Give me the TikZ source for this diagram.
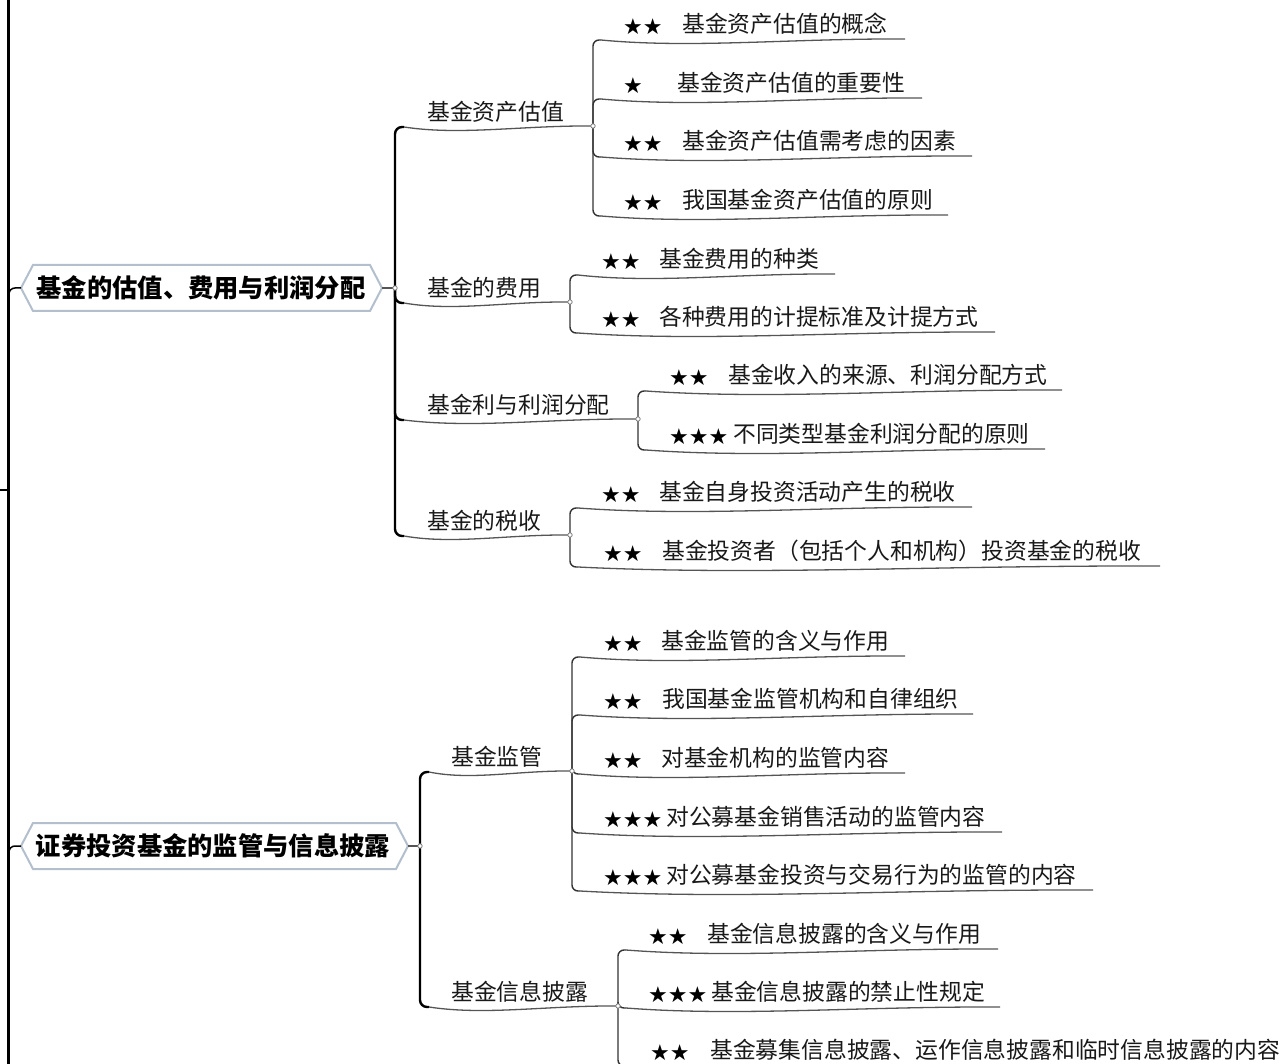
\documentclass[tikz,border=0pt]{standalone}
\usepackage{fontspec}
\usetikzlibrary{calc}
\newfontfamily\cjk{Noto Sans CJK SC}
\newfontfamily\starfont{DejaVu Sans}
\definecolor{linegray}{HTML}{555555}
\definecolor{hexborder}{HTML}{B3BFCC}
\newcommand\midnode[7]{%
  \node[txt] (#1) at (#4,#5) {#6};
  \coordinate (#1a) at (#3+9,#5+15);
  \coordinate (#1b) at (#7,#5+14);
  \draw[spinethick] (#2) |- (#1a);
  \draw[ul] (#1a) to[wave] (#1b);
}
\newcommand\leafnode[9]{%
  \node[star] (#1s) at (#4,#6+2.5) {#7};
  \node[txt] (#1) at (#5,#6) {#8};
  \coordinate (#1a) at (#3+8,#6+16);
  \coordinate (#1b) at (#9,#6+15);
  \draw[spinethin] (#2) |- (#1a);
  \draw[ul] (#1a) to[wave] (#1b);
}
\begin{document}
\begin{tikzpicture}[x=1pt,y=-1pt,
  star/.style={anchor=west,inner sep=0pt,font=\starfont\fontsize{22}{26}\selectfont,text=black},
  txt/.style={anchor=west,inner sep=0pt,font=\cjk\fontsize{22.8}{27}\selectfont,text=black!90},
  head/.style={inner sep=0pt,font=\cjk\bfseries\fontsize{25.3}{30}\selectfont,text=black},
  hexa/.style={draw=hexborder,line width=2pt,fill=white,line join=miter},
  ul/.style={draw=linegray,line width=1.3pt},
  spinethin/.style={draw=black!80,line width=1.4pt,rounded corners=6pt},
  spinethick/.style={draw=black,line width=2.4pt,rounded corners=7pt},
  knot/.style={draw=gray,fill=white,line width=0.8pt},
  wave/.style={to path={.. controls ($(\tikztostart)!0.3!(\tikztotarget)+(0,9)$) and ($(\tikztostart)!0.62!(\tikztotarget)+(0,-1)$) .. (\tikztotarget)}}
]
\useasboundingbox (0,0) rectangle (1288,1064);
\clip (0,0) rectangle (1288,1064);

% left spine
\coordinate (L0) at (8,0);
\coordinate (L1) at (8,1064);
\coordinate (Lm) at (8,490);
\coordinate (stub) at (0,490);
\draw[line width=3pt] (L0) -- (L1);
\draw[line width=1.2pt] (stub) -- (Lm);

% main node 1
\draw[hexa] (21,288) -- (33,265) -- (370,265) -- (382,288) -- (370,311) -- (33,311) -- cycle;
\node[head] (m1) at (201,288) {基金的估值、费用与利润分配};
\coordinate (m1l) at (21,288);
\coordinate (m1r) at (382,288);
\coordinate (L1a) at (9,297);
\draw[line width=1.5pt,rounded corners=6pt] (L1a) |- (m1l);
\coordinate (j1) at (395,288);
\draw[line width=1.2pt,linegray] (m1r) -- (j1);

% main node 2
\draw[hexa] (21,846) -- (33,823) -- (396,823) -- (408,846) -- (396,869) -- (33,869) -- cycle;
\node[head] (m2) at (213,846) {证券投资基金的监管与信息披露};
\coordinate (m2l) at (21,846);
\coordinate (m2r) at (408,846);
\coordinate (L2a) at (9,855);
\draw[line width=1.5pt,rounded corners=6pt] (L2a) |- (m2l);
\coordinate (j2) at (420,846);
\draw[line width=1.2pt,linegray] (m2r) -- (j2);

% level 2 under main 1
\midnode{A}{j1}{395}{427}{112}{基金资产估值}{593}
\midnode{B}{j1}{395}{427}{288}{基金的费用}{570}
\midnode{C}{j1}{395}{427}{405}{基金利与利润分配}{638}
\midnode{D}{j1}{395}{427}{521}{基金的税收}{570}

\leafnode{A1}{Ab}{593}{623}{682}{24}{★★}{基金资产估值的概念}{905}
\leafnode{A2}{Ab}{593}{623}{677}{83}{★}{基金资产估值的重要性}{922}
\leafnode{A3}{Ab}{593}{623}{682}{141}{★★}{基金资产估值需考虑的因素}{972}
\leafnode{A4}{Ab}{593}{623}{682}{200}{★★}{我国基金资产估值的原则}{948}

\leafnode{B1}{Bb}{570}{601}{659}{259}{★★}{基金费用的种类}{835}
\leafnode{B2}{Bb}{570}{601}{659}{317}{★★}{各种费用的计提标准及计提方式}{995}

\leafnode{C1}{Cb}{638}{669}{728}{375}{★★}{基金收入的来源、利润分配方式}{1062}
\leafnode{C2}{Cb}{638}{669}{733}{434}{★★★}{不同类型基金利润分配的原则}{1045}

\leafnode{D1}{Db}{570}{601}{659}{492}{★★}{基金自身投资活动产生的税收}{972}
\leafnode{D2}{Db}{570}{603}{662}{551}{★★}{基金投资者（包括个人和机构）投资基金的税收}{1160}

% level 2 under main 2
\midnode{E}{j2}{420}{451}{757}{基金监管}{572}
\midnode{F}{j2}{420}{451}{992}{基金信息披露}{618}

\leafnode{E1}{Eb}{572}{603}{661}{641}{★★}{基金监管的含义与作用}{905}
\leafnode{E2}{Eb}{572}{603}{662}{699}{★★}{我国基金监管机构和自律组织}{973}
\leafnode{E3}{Eb}{572}{603}{661}{758}{★★}{对基金机构的监管内容}{905}
\leafnode{E4}{Eb}{572}{603}{666}{817}{★★★}{对公募基金销售活动的监管内容}{1002}
\leafnode{E5}{Eb}{572}{603}{666}{875}{★★★}{对公募基金投资与交易行为的监管的内容}{1093}

\leafnode{F1}{Fb}{618}{648}{707}{934}{★★}{基金信息披露的含义与作用}{998}
\leafnode{F2}{Fb}{618}{648}{711}{992}{★★★}{基金信息披露的禁止性规定}{1000}
\leafnode{F3}{Fb}{618}{650}{710}{1050}{★★}{基金募集信息披露、运作信息披露和临时信息披露的内容}{1296}

% junction knots
\foreach \k in {j1,Ab,Bb,Cb,Db,j2,Eb,Fb} \draw[knot] (\k) circle (2.2);
\end{tikzpicture}
\end{document}
